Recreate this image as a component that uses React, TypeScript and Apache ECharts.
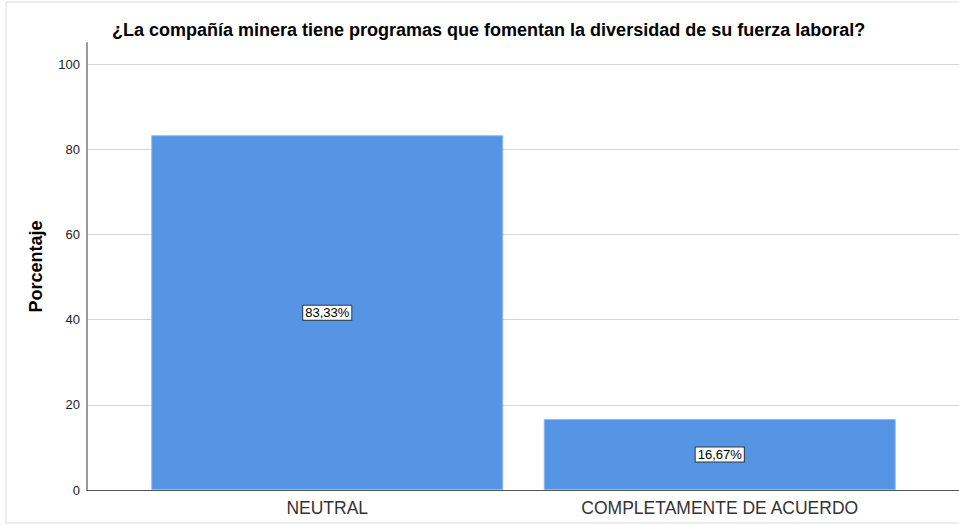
import React, { useEffect, useRef } from "react";
import * as echarts from "echarts";

const categories = ["NEUTRAL", "COMPLETAMENTE DE ACUERDO"];
const percentages = [83.33, 16.67];
const yTicks = [0, 20, 40, 60, 80, 100];
const titleText = "¿La compañía minera tiene programas que fomentan la diversidad de su fuerza laboral?";
const yName = "Porcentaje";

const FONT = "'Liberation Sans', Arial, sans-serif";

export default function App() {
  const ref = useRef<HTMLDivElement>(null);
  useEffect(() => {
    if (!ref.current) return;
    const chart = echarts.init(ref.current, null, { renderer: "svg" });
    chart.setOption({
      animation: false,
      backgroundColor: "#ffffff",
      textStyle: { fontFamily: FONT },
      title: {
        text: titleText,
        left: 112,
        top: 21,
        padding: 0,
        textStyle: { fontFamily: FONT, fontSize: 18, fontWeight: "bold", color: "#000" },
      },
      graphic: [
        {
          type: "rect",
          shape: { x: 6, y: 2, width: 960, height: 521 },
          style: { fill: "none", stroke: "#dcdcdc", lineWidth: 1 },
          silent: true,
          z: -1,
        },
      ],
      grid: [
        { left: 87, right: 0, top: 43, bottom: 35 },
        { left: 131, right: 43, top: 43, bottom: 35 },
      ],
      xAxis: [
        {
          type: "category",
          gridIndex: 0,
          data: categories,
          axisLabel: { show: false },
          axisTick: { show: false },
          axisLine: { show: true, lineStyle: { color: "#555", width: 1 } },
          splitLine: { show: false },
        },
        {
          type: "category",
          gridIndex: 1,
          data: categories,
          axisLine: { show: false },
          axisTick: { show: false },
          axisLabel: { fontFamily: FONT, fontSize: 17.5, color: "#333", margin: 9 },
        },
      ],
      yAxis: [
        {
          type: "value",
          gridIndex: 0,
          min: yTicks[0],
          max: 105,
          interval: yTicks[1] - yTicks[0],
          name: yName,
          nameLocation: "middle",
          nameGap: 42,
          nameTextStyle: { fontFamily: FONT, fontSize: 18, fontWeight: "bold", color: "#000" },
          axisLine: { show: true, lineStyle: { color: "#9a9a9a", width: 2 } },
          axisTick: { show: false },
          axisLabel: { fontFamily: FONT, fontSize: 13, color: "#222", margin: 7, showMaxLabel: false },
          splitLine: { show: true, showMaxLine: false, lineStyle: { color: "#d4d4d4", width: 1 } },
        },
        {
          type: "value",
          gridIndex: 1,
          min: 0,
          max: 105,
          show: false,
          splitLine: { show: false },
        },
      ],
      series: [
        {
          type: "bar",
          xAxisIndex: 1,
          yAxisIndex: 1,
          data: percentages,
          barWidth: 352,
          itemStyle: { color: "#5595E4", borderColor: "#8fb8ef", borderWidth: 1 },
          label: {
            show: true,
            position: "inside",
            formatter: (p: any) => p.value.toFixed(2).replace(".", ",") + "%",
            fontFamily: FONT,
            fontSize: 13,
            color: "#000",
            backgroundColor: "#fff",
            borderColor: "#333",
            borderWidth: 1,
            padding: [1, 2, 0, 2],
          },
        },
      ],
    });
    return () => chart.dispose();
  }, []);
  return <div ref={ref} style={{ width: 959, height: 525, position: "absolute", left: 0, top: 0 }} />;
}
